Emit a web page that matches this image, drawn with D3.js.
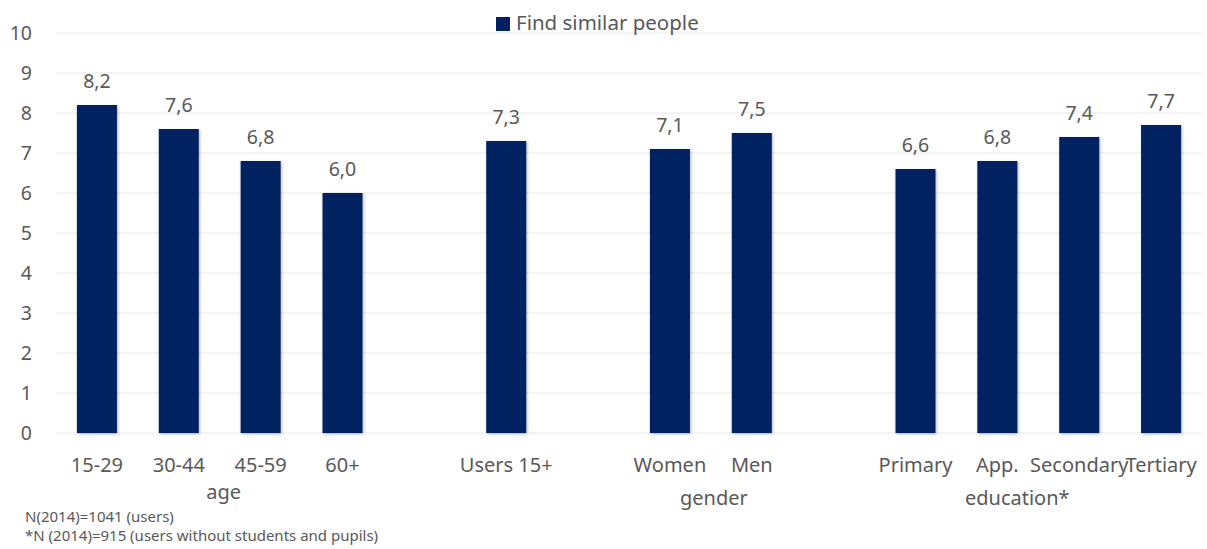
<!DOCTYPE html>
<html>
<head>
<meta charset="utf-8">
<script src="https://cdn.jsdelivr.net/npm/d3@7"></script>
<style>
  html, body { margin: 0; padding: 0; background: #ffffff; }
  svg { display: block; }
  text { font-family: "Noto Sans", "Open Sans", sans-serif; fill: #595959; }
</style>
</head>
<body>
<div id="chart"></div>
<script>
// ---- data ----
const seriesName = "Find similar people";
const groupNames = ["age", "", "gender", "education*"];
const groupMembers = [
  ["15-29", "30-44", "45-59", "60+"],
  ["Users 15+"],
  ["Women", "Men"],
  ["Primary", "App.", "Secondary", "Tertiary"]
];
const values = [8.2, 7.6, 6.8, 6.0, 7.3, 7.1, 7.5, 6.6, 6.8, 7.4, 7.7];
const yTicks = [0, 1, 2, 3, 4, 5, 6, 7, 8, 9, 10];
const footnotes = [
  "N(2014)=1041 (users)",
  "*N (2014)=915 (users without students and pupils)"
];

// ---- layout ----
const W = 1207, H = 549;
const plot = { left: 56, right: 1202, top: 33, bottom: 433 };
const barColor = "#002060";
const FONT = '"Noto Sans", "Open Sans", sans-serif';

const categories = groupMembers.flat();
const data = categories.map((c, i) => ({ cat: c, value: values[i] }));

// domain with gap slots between groups
const domain = [];
groupMembers.forEach((g, gi) => {
  if (gi > 0) domain.push("__gap" + gi);
  g.forEach(c => domain.push(c));
});

const p = 1 - 40 / ((plot.right - plot.left) / domain.length);
const x = d3.scaleBand().domain(domain).range([plot.left, plot.right])
  .paddingInner(p).paddingOuter(p / 2);
const y = d3.scaleLinear().domain([0, 10]).range([plot.bottom, plot.top]);

const loc = d3.formatLocale({ decimal: ",", thousands: ".", grouping: [3], currency: ["", ""] });
const fmt = loc.format(".1f");

const svg = d3.select("#chart").append("svg").attr("width", W).attr("height", H);

const defs = svg.append("defs");
const f = defs.append("filter").attr("id", "shadow").attr("x", "-20%").attr("y", "-20%")
  .attr("width", "140%").attr("height", "140%");
f.append("feDropShadow").attr("dx", 1).attr("dy", 1).attr("stdDeviation", 1.5)
  .attr("flood-color", "#000").attr("flood-opacity", 0.3);

// gridlines
svg.append("g").selectAll("line").data(yTicks).join("line")
  .attr("x1", plot.left).attr("x2", plot.right)
  .attr("y1", d => y(d)).attr("y2", d => y(d))
  .attr("stroke", "#e8e8e8").attr("stroke-width", 1);

// y axis labels
const yAxis = d3.axisLeft(y).tickValues(yTicks).tickSize(0).tickPadding(0).tickFormat(d3.format("d"));
const yG = svg.append("g").attr("transform", "translate(32,0)").call(yAxis);
yG.select(".domain").remove();
yG.selectAll("text").style("font-size", "19.5px").attr("fill", "#595959").style("font-family", FONT);

// bars
svg.append("g").selectAll("rect").data(data).join("rect")
  .attr("x", d => x(d.cat)).attr("width", x.bandwidth())
  .attr("y", d => y(d.value)).attr("height", d => y(0) - y(d.value))
  .attr("fill", barColor).attr("filter", "url(#shadow)");

// value labels
svg.append("g").selectAll("text").data(data).join("text")
  .attr("x", d => x(d.cat) + x.bandwidth() / 2)
  .attr("y", d => y(d.value) - 17)
  .attr("text-anchor", "middle").style("font-size", "19.5px")
  .text(d => fmt(d.value));

// category labels (x axis)
const xAxis = d3.axisBottom(x).tickSize(0).tickPadding(0)
  .tickFormat(d => d.startsWith("__gap") ? "" : d);
const xG = svg.append("g").attr("transform", `translate(0,${plot.bottom})`).call(xAxis);
xG.select(".domain").remove();
xG.selectAll("text").attr("dy", null).attr("y", 39).style("font-size", "20px")
  .attr("fill", "#595959").style("font-family", FONT);

// group labels
const groupOffsets = [4, 0, 3, -21];
const groupBaselines = [499, 0, 505, 505];
groupMembers.forEach((g, gi) => {
  if (!groupNames[gi]) return;
  const x0 = x(g[0]), x1 = x(g[g.length - 1]) + x.bandwidth();
  svg.append("text")
    .attr("x", (x0 + x1) / 2 + groupOffsets[gi])
    .attr("y", groupBaselines[gi])
    .attr("text-anchor", "middle").style("font-size", "20px")
    .text(groupNames[gi]);
});

// legend
const lg = svg.append("g");
lg.append("rect").attr("x", 496).attr("y", 17).attr("width", 14).attr("height", 14).attr("fill", barColor);
lg.append("text").attr("x", 516).attr("y", 30).style("font-size", "20.5px").text(seriesName);

// footnotes
svg.append("g").selectAll("text").data(footnotes).join("text")
  .attr("x", 25).attr("y", (d, i) => 522 + i * 19)
  .style("font-size", "15px").text(d => d);
</script>
</body>
</html>
